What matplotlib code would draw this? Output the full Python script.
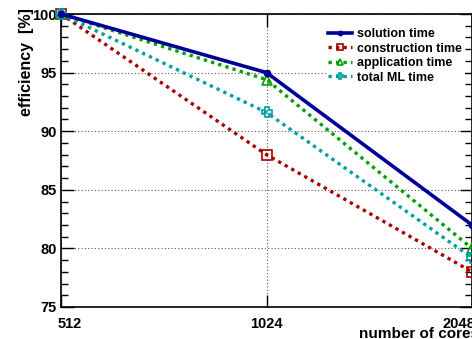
import matplotlib
matplotlib.use("Agg")
import matplotlib.pyplot as plt
import matplotlib.transforms as mtransforms
from matplotlib.ticker import FixedLocator, MultipleLocator, NullLocator

plt.rcParams['font.family'] = ['Liberation Sans', 'DejaVu Sans']
plt.rcParams['font.weight'] = 'bold'

# donnees
cores = [512, 1024, 2048]
solution = [100.0, 95.0, 82.0]
construction = [100.0, 88.0, 78.0]
application = [100.0, 94.4, 80.0]
total_ml = [100.0, 91.6, 79.2]

series = [
    ("solution time", solution, '#000099', '-', 'o', 'full'),
    ("construction time", construction, '#aa0000', (0, (1, 1.25)), 's', 'none'),
    ("application time", application, '#00a000', (0, (1, 1.25)), '^', 'none'),
    ("total ML time", total_ml, '#00a0a0', (0, (1, 1.25)), 'P', 'none'),
]

fig = plt.figure(figsize=(4.72, 3.39), dpi=100)
ax = fig.add_axes([61 / 472, 32 / 339, 411 / 472, 293 / 339])

for nom, vals, col, ls, mk, fill in series:
    if fill == 'full':
        ax.plot(cores, vals, color=col, linestyle=ls, linewidth=2.6,
                marker=mk, markersize=4.5, label=nom, clip_on=False, zorder=4)
    else:
        ax.plot(cores, vals, color=col, linestyle=ls, linewidth=2.4,
                marker=mk, markersize=6.5, markerfacecolor='none',
                markeredgewidth=1.2, label=nom, clip_on=False, zorder=3)

ax.set_xscale('log', base=2)
ax.set_xlim(512, 2048)
ax.set_ylim(75, 100)

ax.xaxis.set_major_locator(FixedLocator(cores))
ax.xaxis.set_minor_locator(NullLocator())
ax.set_xticklabels([str(c) for c in cores])
ax.yaxis.set_major_locator(MultipleLocator(5))
ax.yaxis.set_minor_locator(MultipleLocator(1))

ax.tick_params(axis='both', which='both', direction='in', top=True, right=True,
               labelsize=10.5, width=1)
ax.tick_params(axis='both', which='major', length=9)
ax.tick_params(axis='both', which='minor', length=5)
ax.tick_params(axis='y', pad=3)
ax.tick_params(axis='x', pad=7)

# decalage des etiquettes aux bords
labs = ax.get_xticklabels()
labs[0].set_transform(labs[0].get_transform() +
                      mtransforms.ScaledTranslation(9 / 100, 0, fig.dpi_scale_trans))
labs[-1].set_transform(labs[-1].get_transform() +
                       mtransforms.ScaledTranslation(-13 / 100, 0, fig.dpi_scale_trans))

for s in ax.spines.values():
    s.set_linewidth(1.2)

ax.grid(True, which='major', linestyle=(0, (1, 2)), color='#555555', linewidth=0.8)

leg = ax.legend(loc='upper right', bbox_to_anchor=(0.997, 0.982), frameon=True,
                fontsize=9, handlelength=1.9, handletextpad=0.4,
                labelspacing=0.2, borderpad=0.2, markerscale=0.7)
leg.get_frame().set_edgecolor('none')
leg.get_frame().set_facecolor('white')
leg.get_frame().set_alpha(1)
leg.set_zorder(5)

fig.text(26 / 472, 1 - 8 / 339, "efficiency  [%]", rotation=90, ha='center',
         va='top', fontsize=11.5, fontweight='bold')
fig.text(479 / 472, 1 - 334 / 339, "number of cores", ha='right', va='center',
         fontsize=11, fontweight='bold')

fig.savefig('out.png', dpi=100)
